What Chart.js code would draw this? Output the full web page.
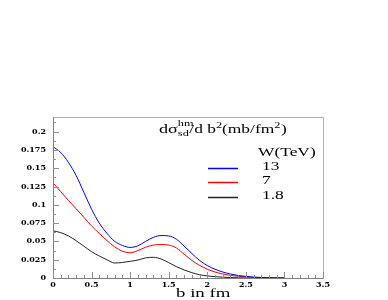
<!DOCTYPE html>
<html><head><meta charset="utf-8">
<script src="https://cdn.jsdelivr.net/npm/chart.js@4/dist/chart.umd.min.js"></script>
<style>html,body{margin:0;padding:0;background:#fff}canvas{display:block}</style>
</head><body>
<canvas id="c" width="388" height="300"></canvas>
<script>
const bValues = [0,0.1,0.2,0.3,0.4,0.5,0.6,0.7,0.8,0.9,1.0,1.1,1.2,1.3,1.4,1.5,1.6,1.7,1.8,1.9,2.0,2.1,2.2,2.3,2.4,2.5,2.6,2.7,2.8,2.9,3.0];
const w13 = [0.1795,0.1715,0.158,0.140,0.117,0.094,0.075,0.061,0.050,0.0445,0.0418,0.044,0.050,0.0555,0.058,0.0575,0.053,0.0435,0.0335,0.024,0.017,0.012,0.0082,0.0055,0.0035,0.0022,0.0013,0.0007,0.0003,0.0001,0.0];
const w7 = [0.130,0.118,0.106,0.0945,0.083,0.071,0.061,0.051,0.0425,0.0365,0.0345,0.0375,0.042,0.045,0.0457,0.045,0.041,0.0325,0.024,0.0172,0.012,0.0082,0.0055,0.0036,0.0023,0.0014,0.0008,0.0004,0.0002,0.0001,0.0];
const w18 = [0.0645,0.062,0.0575,0.051,0.0435,0.036,0.030,0.0248,0.0205,0.0212,0.0228,0.0245,0.0275,0.0283,0.026,0.021,0.0155,0.011,0.0073,0.0045,0.0028,0.0018,0.0011,0.0006,0.0003,0.0001,0,0,0,0,0];
const seriesLabels = ['13','7','1.8'];
const seriesColors = ['#0000ff','#ff0000','#222222'];
const xTicks = [0,0.5,1,1.5,2,2.5,3,3.5];
const yTicks = [0,0.025,0.05,0.075,0.1,0.125,0.15,0.175,0.2];
const legendTitle = 'W(TeV)';
const xTitle = 'b in fm';

const toPts = arr => bValues.map((b,i)=>({x:b,y:arr[i]}));
const seriesData = [w13,w7,w18];

const STRETCH = 1.45;
function stretchedText(ctx, text, x, y, font){
  ctx.save();
  ctx.font = font;
  ctx.translate(x,y);
  ctx.scale(STRETCH,1);
  ctx.fillText(text,0,0);
  const w = ctx.measureText(text).width*STRETCH;
  ctx.restore();
  return w;
}

const decor = {
  id:'decor',
  afterDraw(chart){
    const ctx = chart.ctx, a = chart.chartArea;
    const xs = chart.scales.x, ys = chart.scales.y;
    ctx.save();
    // frame
    ctx.lineWidth = 1;
    ctx.strokeStyle = '#b0b0b0';
    ctx.beginPath();
    ctx.moveTo(a.left, a.top+0.5); ctx.lineTo(a.right+0.5, a.top+0.5); ctx.lineTo(a.right+0.5, a.bottom);
    ctx.stroke();
    ctx.strokeStyle = '#808080';
    ctx.beginPath();
    ctx.moveTo(a.left+0.5, a.top); ctx.lineTo(a.left+0.5, a.bottom+0.5); ctx.lineTo(a.right+0.5, a.bottom+0.5);
    ctx.stroke();
    // ticks
    ctx.strokeStyle = '#909090';
    ctx.beginPath();
    for(let v=0; v<=0.2200001; v+=0.0125){
      const major = Math.abs(v/0.025 - Math.round(v/0.025))<1e-6;
      const py = Math.round(ys.getPixelForValue(v))+0.5;
      ctx.moveTo(a.left, py); ctx.lineTo(a.left+(major?6:3), py);
    }
    for(let v=0; v<=3.50001; v+=0.1){
      const major = Math.abs(v/0.5 - Math.round(v/0.5))<1e-6;
      const px = Math.round(xs.getPixelForValue(v))+0.5;
      ctx.moveTo(px, a.bottom); ctx.lineTo(px, a.bottom-(major?6:3));
    }
    ctx.stroke();
    // title
    ctx.fillStyle = '#000';
    ctx.textBaseline = 'alphabetic';
    ctx.textAlign = 'left';
    const f = s => s+'px "Liberation Serif", serif';
    let x = 159;
    x += stretchedText(ctx,'dσ',x,133,f(12.5));
    stretchedText(ctx,'hm',x,125.5,f(8.5));
    const wsd = stretchedText(ctx,'sd',x,135.5,f(8.5));
    x += wsd + 0.5;
    x += stretchedText(ctx,'/d b',x,133,f(12));
    x += stretchedText(ctx,'2',x,127.5,f(8.5));
    x += stretchedText(ctx,'(mb/fm',x,133,f(12));
    x += stretchedText(ctx,'2',x,127.5,f(8.5)) + 0.5;
    stretchedText(ctx,')',x,133,f(12));
    // legend
    stretchedText(ctx,legendTitle,258,156,f(12));
    const rowY = [168.5,182.5,197.5];
    const textY = [169.5,183.5,198.5];
    chart.data.datasets.forEach((ds,i)=>{
      ctx.strokeStyle = ds.borderColor;
      ctx.lineWidth = 1.5;
      ctx.beginPath(); ctx.moveTo(208,rowY[i]); ctx.lineTo(238,rowY[i]); ctx.stroke();
      ctx.fillStyle = '#000';
      stretchedText(ctx,ds.label,262,textY[i],f(12));
    });
    // x title
    stretchedText(ctx,xTitle,176,297,f(13));
    ctx.restore();
  }
};

new Chart(document.getElementById('c'),{
  type:'line',
  data:{
    datasets: seriesData.map((arr,i)=>({
      label: seriesLabels[i],
      data: toPts(arr),
      borderColor: seriesColors[i],
      borderWidth: 1,
      pointRadius: 0,
      fill:false,
      cubicInterpolationMode:'monotone'
    }))
  },
  options:{
    responsive:false,
    animation:false,
    events:[],
    layout:{padding:{top:117,right:65,left:0,bottom:0}},
    plugins:{legend:{display:false},tooltip:{enabled:false},title:{display:false}},
    scales:{
      x:{
        type:'linear', min:0, max:3.5,
        grid:{display:false, drawTicks:false},
        border:{display:false},
        afterBuildTicks:s=>{s.ticks = xTicks.map(v=>({value:v}));},
        afterFit:s=>{s.height = 22;},
        ticks:{padding:2, maxRotation:0, autoSkip:false, color:'#000',
          font:{family:'"DejaVu Serif", serif', size:8, weight:'bold'},
          callback:v=>String(+(+v).toFixed(3))}
      },
      y:{
        type:'linear', min:0, max:0.22,
        grid:{display:false, drawTicks:false},
        border:{display:false},
        afterBuildTicks:s=>{s.ticks = yTicks.map(v=>({value:v}));},
        afterFit:s=>{s.width = 53;},
        ticks:{padding:7, autoSkip:false, color:'#000',
          font:{family:'"DejaVu Serif", serif', size:8, weight:'bold'},
          callback:v=>String(+(+v).toFixed(3))}
      }
    }
  },
  plugins:[decor]
});
</script>
</body></html>
